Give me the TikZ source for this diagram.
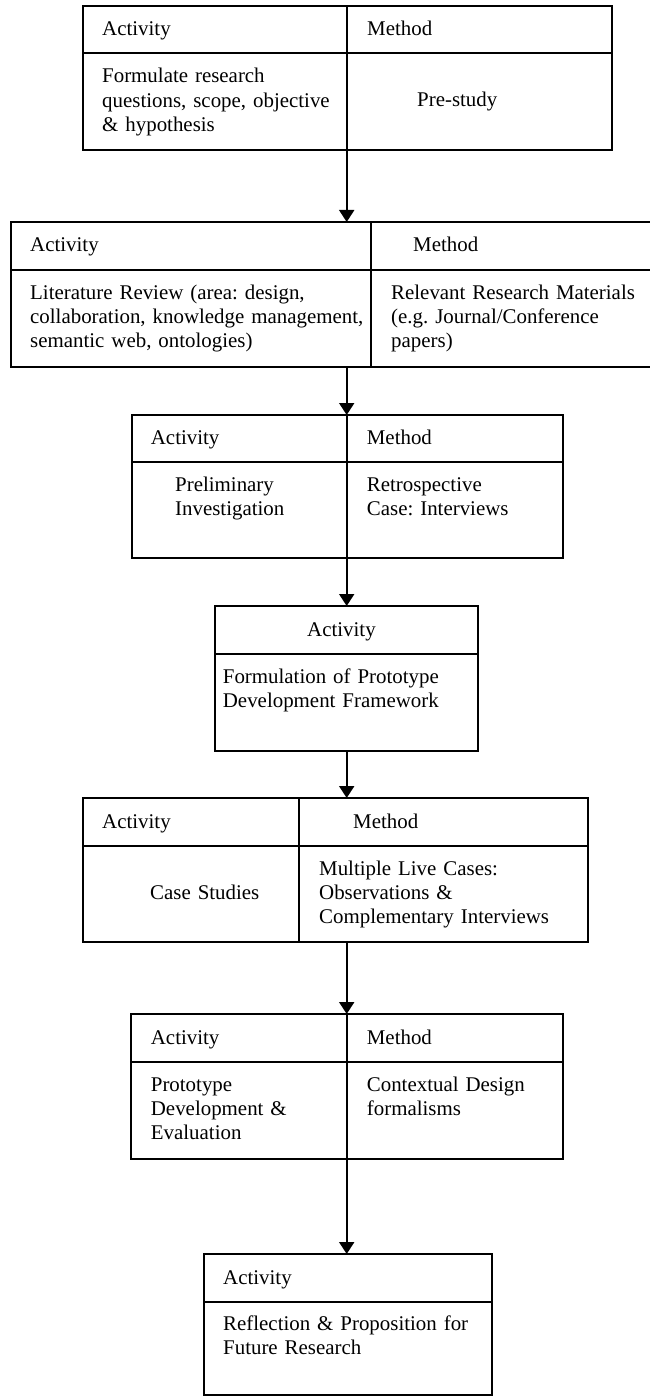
\documentclass[tikz,border=0pt]{standalone}
\usepackage{fontspec}
\setmainfont{Liberation Serif}
\usetikzlibrary{arrows.meta}
\frenchspacing
\begin{document}
\begin{tikzpicture}[x=1pt,y=-1pt,
  frame/.style={draw, line width=2pt, inner sep=0pt, outer sep=0pt, anchor=north west},
  rule/.style={line width=1.6pt},
  cell/.style={anchor=base west, inner sep=0pt, text width=420pt, align=left,
               font=\fontsize{20.9}{24.2}\selectfont\frenchspacing},
  flow/.style={line width=2pt, -{Triangle[length=12pt,width=15pt]}}]
\useasboundingbox (0,0) rectangle (649,1396);
\coordinate (spine) at (346.7,0);

% Stage 1: research questions
\node[frame, minimum width=529.3pt, minimum height=144pt] (s1) at (82.7,6) {};
\draw[rule] (82.7,53) -- (612,53);
\draw[rule] (346.7,6) -- (346.7,150);
\node[cell] (s1a) at (102,36) {Activity};
\node[cell] (s1m) at (367,36) {Method};
\node[cell] (s1at) at (102,83) {Formulate research\\questions, scope, objective\\\& hypothesis};
\node[cell] (s1mt) at (417,107) {Pre-study};

% Stage 2: literature review
\node[frame, minimum width=639.8pt, minimum height=144.7pt] (s2) at (10.7,222) {};
\draw[rule] (10.7,270) -- (650.5,270);
\draw[rule] (370.7,222) -- (370.7,366.7);
\node[cell] (s2a) at (30,252) {Activity};
\node[cell] (s2m) at (413,252) {Method};
\node[cell] (s2at) at (30,299) {Literature Review (area: design,\\collaboration, knowledge management,\\semantic web, ontologies)};
\node[cell] (s2mt) at (391,299) {Relevant Research Materials\\(e.g. Journal/Conference\\papers)};

% Stage 3: preliminary investigation
\node[frame, minimum width=431.3pt, minimum height=142.7pt] (s3) at (131.7,415) {};
\draw[rule] (131.7,462) -- (563,462);
\draw[rule] (346.7,415) -- (346.7,557.7);
\node[cell] (s3a) at (150.7,444) {Activity};
\node[cell] (s3m) at (366.7,444) {Method};
\node[cell] (s3at) at (175,491) {Preliminary\\Investigation};
\node[cell] (s3mt) at (366.7,491) {Retrospective\\Case: Interviews};

% Stage 4: framework
\node[frame, minimum width=263pt, minimum height=144.7pt] (s4) at (215,606) {};
\draw[rule] (215,654) -- (478,654);
\node[cell] (s4a) at (307,636.5) {Activity};
\node[cell] (s4at) at (222.7,683) {Formulation of Prototype\\Development Framework};

% Stage 5: case studies
\node[frame, minimum width=505.3pt, minimum height=144pt] (s5) at (82.7,798) {};
\draw[rule] (82.7,846) -- (588,846);
\draw[rule] (299,798) -- (299,942);
\node[cell] (s5a) at (102,828.5) {Activity};
\node[cell] (s5m) at (353,828.5) {Method};
\node[cell] (s5at) at (150,899.5) {Case Studies};
\node[cell] (s5mt) at (319,875) {Multiple Live Cases:\\Observations \&\\Complementary Interviews};

% Stage 6: prototype
\node[frame, minimum width=432pt, minimum height=145pt] (s6) at (131,1014) {};
\draw[rule] (131,1062) -- (563,1062);
\draw[rule] (346.7,1014) -- (346.7,1159);
\node[cell] (s6a) at (150.7,1044) {Activity};
\node[cell] (s6m) at (366.7,1044) {Method};
\node[cell] (s6at) at (150.7,1091) {Prototype\\Development \&\\Evaluation};
\node[cell] (s6mt) at (366.7,1091) {Contextual Design\\formalisms};

% Stage 7: reflection
\node[frame, minimum width=287.7pt, minimum height=141pt] (s7) at (204,1254) {};
\draw[rule] (204,1301.7) -- (491.7,1301.7);
\node[cell] (s7a) at (223,1284) {Activity};
\node[cell] (s7at) at (223,1330.7) {Reflection \& Proposition for\\Future Research};

% Flow between stages
\draw[flow] (s1.south -| spine) -- (s2.north -| spine);
\draw[flow] (s2.south -| spine) -- (s3.north -| spine);
\draw[flow] (s3.south -| spine) -- (s4.north -| spine);
\draw[flow] (s4.south -| spine) -- (s5.north -| spine);
\draw[flow] (s5.south -| spine) -- (s6.north -| spine);
\draw[flow] (s6.south -| spine) -- (s7.north -| spine);
\end{tikzpicture}
\end{document}
